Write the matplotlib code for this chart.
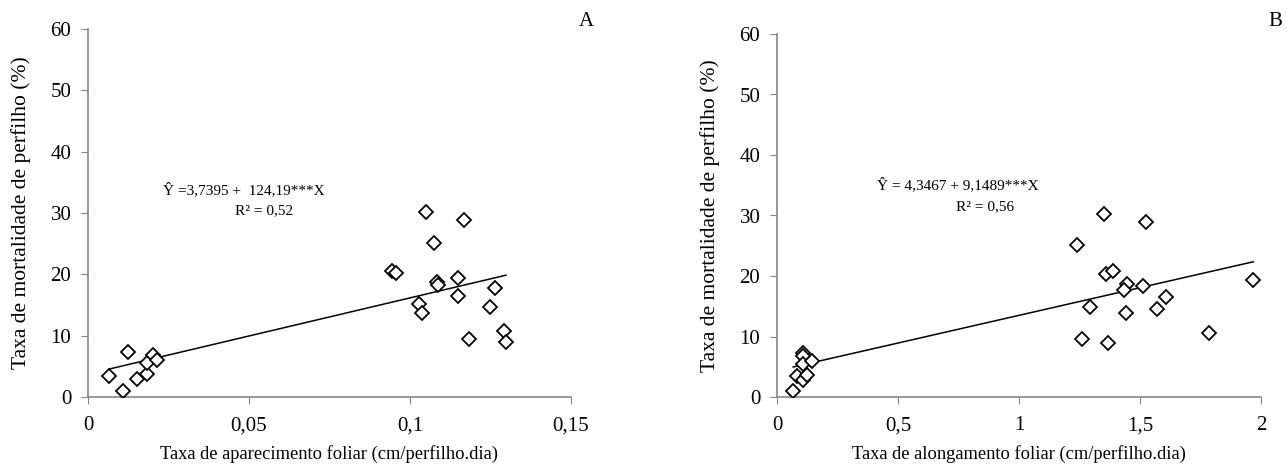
import matplotlib.pyplot as plt

plt.rcParams['font.family'] = ['Liberation Serif', 'DejaVu Serif']

# Painel A - taxa de aparecimento foliar
taf = [0.0066, 0.011, 0.0125, 0.0151, 0.0182, 0.0182, 0.0203, 0.0213,
       0.0943, 0.0957, 0.105, 0.1075, 0.1029, 0.1036, 0.1083, 0.1086,
       0.115, 0.115, 0.1169, 0.1182, 0.1248, 0.1264, 0.1292, 0.1298]
mort_a = [3.4, 1.0, 7.3, 3.0, 3.75, 5.5, 6.8, 6.0,
          20.6, 20.2, 30.2, 25.1, 15.1, 13.75, 18.7, 18.3,
          19.35, 16.5, 28.8, 9.5, 14.6, 17.7, 10.8, 9.0]

# Painel B - taxa de alongamento foliar
tal = [0.067, 0.084, 0.109, 0.125, 0.109, 0.109, 0.109, 0.146,
       1.241, 1.351, 1.523, 1.36, 1.39, 1.445, 1.435, 1.511,
       1.293, 1.441, 1.572, 1.606, 1.259, 1.369, 1.785, 1.968]
mort_b = [1.05, 3.4, 2.8, 3.6, 7.3, 6.7, 5.5, 6.0,
          25.2, 30.3, 28.9, 20.25, 20.75, 18.7, 17.7, 18.4,
          14.95, 13.85, 14.6, 16.6, 9.55, 9.0, 10.65, 19.4]

# coeficientes da regressao (a, b)
coef_a = (3.7395, 124.19)
coef_b = (4.3467, 9.1489)

W, H = 1287, 469
fig = plt.figure(figsize=(W / 100, H / 100), dpi=100)

def eixo(left, right, top, bottom):
	return fig.add_axes([left / W, 1 - bottom / H, (right - left) / W, (bottom - top) / H])

def px(x, y):
	return (x / W, 1 - y / H)

def painel(ax, x, y, coef, xlim, xticks, xlabels, xlabel, eq, eqpos, r2, r2pos, letra, letrapos):
	ax.plot(x, y, 'D', ms=7, mfc='white', mec='black', mew=1.3, zorder=3)
	x0, x1 = min(x), max(x)
	ax.plot([x0, x1], [coef[0] + coef[1] * x0, coef[0] + coef[1] * x1], color='black', lw=1.1)
	ax.set_xlim(*xlim)
	ax.set_ylim(0, 60)
	ax.set_xticks(xticks)
	ax.set_xticklabels(xlabels)
	ax.set_yticks(range(0, 61, 10))
	for s in ['top', 'right']:
		ax.spines[s].set_visible(False)
	for s in ['left', 'bottom']:
		ax.spines[s].set_color('#868686')
		ax.spines[s].set_linewidth(1.2)
	ax.tick_params(direction='out', length=5, color='#868686', labelsize=15, pad=7)
	ax.tick_params(axis='x', pad=9)
	ax.set_xlabel(xlabel, fontsize=13.3, labelpad=7)
	ax.set_ylabel('Taxa de mortalidade de perfilho (%)', fontsize=15.5, labelpad=14)
	# equacao e R2 em posicoes separadas, como no original
	fig.text(*px(*eqpos), eq, ha='center', va='center', fontsize=11)
	fig.text(*px(*r2pos), r2, ha='center', va='center', fontsize=11)
	fig.text(*px(*letrapos), letra, fontsize=15, ha='center', va='center')

axA = eixo(88, 571, 29, 397)
painel(axA, taf, mort_a, coef_a, (0, 0.15), [0, 0.05, 0.1, 0.15], ['0', '0,05', '0,1', '0,15'],
	'Taxa de aparecimento foliar (cm/perfilho.dia)',
	'Ŷ =3,7395 +  124,19***X', (244, 190), 'R² = 0,52', (264, 211), 'A', (586, 22))

axB = eixo(777, 1261, 34, 397)
painel(axB, tal, mort_b, coef_b, (0, 2), [0, 0.5, 1, 1.5, 2], ['0', '0,5', '1', '1,5', '2'],
	'Taxa de alongamento foliar (cm/perfilho.dia)',
	'Ŷ = 4,3467 + 9,1489***X', (958, 185), 'R² = 0,56', (985, 207), 'B', (1275, 22))

fig.savefig('out.png', dpi=100)
